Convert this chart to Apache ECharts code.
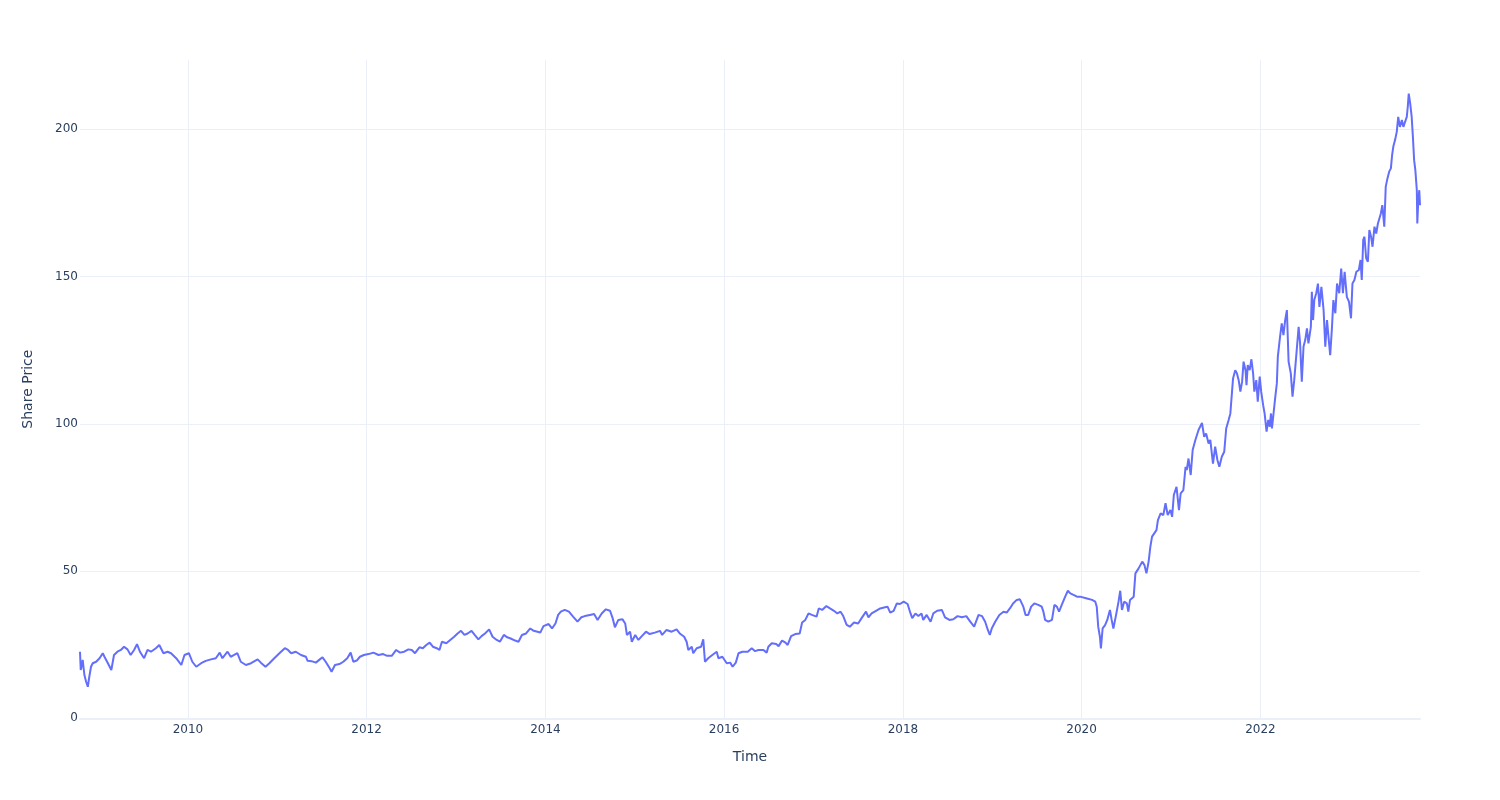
<!DOCTYPE html>
<html>
<head>
<meta charset="utf-8">
<script src="https://cdn.jsdelivr.net/npm/echarts@6/dist/echarts.min.js"></script>
<style>
  html, body { margin: 0; padding: 0; background: #fff; }
  #chart { width: 1500px; height: 800px; }
</style>
</head>
<body>
<div id="chart"></div>
<script>
const dates = [
  '2008-10-17','2008-10-20','2008-10-23','2008-10-28','2008-11-04','2008-11-11','2008-11-18','2008-11-24','2008-12-01','2008-12-08','2008-12-22',
  '2009-01-05','2009-01-18','2009-01-25','2009-02-08','2009-02-22','2009-03-05','2009-03-19','2009-04-02','2009-04-15','2009-04-29','2009-05-12','2009-05-26','2009-06-07','2009-06-19','2009-07-06','2009-07-20','2009-08-03','2009-08-23','2009-09-06','2009-09-23','2009-10-10','2009-10-24','2009-11-14','2009-12-05','2009-12-18',
  '2010-01-05','2010-01-19','2010-02-04','2010-02-24','2010-03-15','2010-04-05','2010-04-25','2010-05-11','2010-05-22','2010-06-12','2010-06-25','2010-07-09','2010-07-22','2010-08-05','2010-08-26','2010-09-16','2010-10-13','2010-10-26','2010-11-14','2010-11-30','2010-12-20',
  '2011-01-10','2011-02-01','2011-02-14','2011-02-27','2011-03-18','2011-04-08','2011-04-28','2011-05-05','2011-05-21','2011-06-08','2011-06-24','2011-07-05','2011-07-18','2011-08-04','2011-08-11','2011-08-25','2011-09-12','2011-09-28','2011-10-14','2011-10-28','2011-11-08','2011-11-22','2011-12-05','2011-12-21',
  '2012-01-09','2012-01-29','2012-02-19','2012-03-09','2012-03-25','2012-04-13','2012-05-01','2012-05-17','2012-06-03','2012-06-20','2012-07-04','2012-07-17','2012-08-04','2012-08-18','2012-09-01','2012-09-15','2012-09-28','2012-10-14','2012-10-25','2012-11-04','2012-11-22','2012-12-08','2012-12-24',
  '2013-01-07','2013-01-21','2013-02-04','2013-02-17','2013-03-05','2013-03-18','2013-04-02','2013-04-15','2013-04-29','2013-05-16','2013-05-30','2013-06-16','2013-06-29','2013-07-15','2013-07-29','2013-08-12','2013-08-30','2013-09-13','2013-09-27','2013-10-14','2013-10-31','2013-11-14','2013-11-21','2013-12-11','2013-12-24',
  '2014-01-14','2014-01-28','2014-02-11','2014-02-22','2014-03-05','2014-03-21','2014-04-07','2014-04-24','2014-05-12','2014-05-28','2014-06-11','2014-07-02','2014-07-19','2014-08-02','2014-08-19','2014-09-05','2014-09-22','2014-10-03','2014-10-12','2014-10-26','2014-11-12','2014-11-23','2014-11-30','2014-12-13','2014-12-20',
  '2015-01-03','2015-01-16','2015-01-30','2015-02-16','2015-03-03','2015-03-24','2015-04-14','2015-04-23','2015-05-11','2015-06-01','2015-06-21','2015-07-04','2015-07-22','2015-08-01','2015-08-08','2015-08-22','2015-08-28','2015-09-11','2015-09-29','2015-10-08','2015-10-15','2015-10-28','2015-11-14','2015-12-02','2015-12-09','2015-12-25',
  '2016-01-12','2016-01-26','2016-02-05','2016-02-18','2016-02-29','2016-03-16','2016-04-07','2016-04-23','2016-05-07','2016-05-20','2016-05-26','2016-06-10','2016-06-23','2016-06-30','2016-07-14','2016-08-01','2016-08-11','2016-08-25','2016-09-08','2016-09-17','2016-10-01','2016-10-18','2016-11-05','2016-11-15','2016-11-28','2016-12-11','2016-12-25',
  '2017-01-13','2017-01-22','2017-02-05','2017-02-22','2017-03-09','2017-03-25','2017-04-08','2017-04-21','2017-05-02','2017-05-16','2017-05-29','2017-06-15','2017-07-02','2017-07-16','2017-08-03','2017-08-13','2017-08-26','2017-09-13','2017-09-30','2017-10-20','2017-10-30','2017-11-10','2017-11-24','2017-12-07','2017-12-20',
  '2018-01-04','2018-01-20','2018-02-01','2018-02-08','2018-02-21','2018-03-05','2018-03-18','2018-03-25','2018-04-08','2018-04-24','2018-05-05','2018-05-21','2018-06-09','2018-06-22','2018-07-10','2018-07-26','2018-08-12','2018-08-30','2018-09-17','2018-10-03','2018-10-19','2018-10-27','2018-11-06','2018-11-20','2018-12-03','2018-12-14','2018-12-22','2018-12-30',
  '2019-01-13','2019-01-30','2019-02-16','2019-03-01','2019-03-14','2019-03-27','2019-04-11','2019-04-24','2019-05-08','2019-05-17','2019-05-28','2019-06-09','2019-06-22','2019-07-08','2019-07-22','2019-07-29','2019-08-05','2019-08-18','2019-09-02','2019-09-12','2019-09-22','2019-10-01','2019-10-12','2019-10-26','2019-11-06','2019-11-16','2019-11-29','2019-12-13','2019-12-26',
  '2020-01-23','2020-02-13','2020-02-26','2020-03-03','2020-03-09','2020-03-16','2020-03-20','2020-03-27','2020-04-06','2020-04-15','2020-04-26','2020-05-03','2020-05-10','2020-05-21','2020-05-31','2020-06-07','2020-06-14','2020-06-23','2020-07-04','2020-07-10','2020-07-17','2020-08-01','2020-08-08','2020-08-21','2020-09-05','2020-09-14','2020-09-22','2020-10-01','2020-10-08','2020-10-15','2020-10-24','2020-11-02','2020-11-08','2020-11-19','2020-11-30','2020-12-09','2020-12-18','2020-12-29',
  '2021-01-05','2021-01-12','2021-01-23','2021-02-02','2021-02-09','2021-02-20','2021-03-01','2021-03-06','2021-03-13','2021-03-22','2021-03-30','2021-04-10','2021-04-23','2021-05-07','2021-05-16','2021-05-24','2021-06-03','2021-06-10','2021-06-21','2021-06-30','2021-07-09','2021-07-17','2021-07-27','2021-08-06','2021-08-14','2021-08-24','2021-08-31','2021-09-11','2021-09-20','2021-09-27','2021-10-04','2021-10-11','2021-10-18','2021-10-24','2021-11-01','2021-11-05','2021-11-10','2021-11-18','2021-11-25','2021-12-02','2021-12-07','2021-12-15','2021-12-21','2021-12-29',
  '2022-01-04','2022-01-12','2022-01-18','2022-01-26','2022-02-02','2022-02-08','2022-02-13','2022-02-17','2022-02-23','2022-03-02','2022-03-09','2022-03-13','2022-03-22','2022-03-29','2022-04-05','2022-04-12','2022-04-19','2022-04-26','2022-05-05','2022-05-12','2022-05-19','2022-05-27','2022-06-06','2022-06-12','2022-06-19','2022-06-26','2022-07-03','2022-07-10','2022-07-16','2022-07-26','2022-07-30','2022-08-04','2022-08-09','2022-08-17','2022-08-24','2022-08-30','2022-09-07','2022-09-16','2022-09-23','2022-09-30','2022-10-06','2022-10-13','2022-10-20','2022-10-26','2022-11-03','2022-11-10','2022-11-19','2022-11-27','2022-12-04','2022-12-11','2022-12-20','2022-12-29',
  '2023-01-06','2023-01-12','2023-01-20','2023-01-28','2023-02-07','2023-02-14','2023-02-19','2023-02-25','2023-03-02','2023-03-09','2023-03-16','2023-03-22','2023-03-29','2023-04-04','2023-04-12','2023-04-19','2023-04-26','2023-05-02','2023-05-08','2023-05-14','2023-05-22','2023-05-28','2023-06-04','2023-06-11','2023-06-18','2023-06-23','2023-06-28','2023-07-05','2023-07-12','2023-07-18','2023-07-25','2023-08-02','2023-08-08','2023-08-15','2023-08-22','2023-08-26','2023-08-30','2023-09-05','2023-09-11','2023-09-16','2023-09-21','2023-09-26','2023-10-02','2023-10-04','2023-10-08','2023-10-12','2023-10-15'
];

const prices = [
  22.6,16.4,17.5,19.8,14.7,12.4,10.7,14.1,17.5,18.7,19.2,
  20.4,22.1,20.9,18.7,16.4,21.5,22.6,23.2,24.3,23.4,21.5,23.2,25.2,22.6,20.4,23.2,22.6,23.8,24.9,22.1,22.6,22.1,20.4,18.1,21.5,
  22.1,19.2,17.5,18.7,19.5,20.0,20.4,22.3,20.4,22.6,20.9,21.5,22.1,19.2,18.1,18.7,20.0,18.9,17.5,18.7,20.4,
  22.1,23.8,23.2,22.1,22.6,21.5,20.9,19.5,19.4,18.9,20.0,20.7,19.2,16.9,15.8,18.1,18.4,19.2,20.4,22.3,19.2,19.6,20.9,21.5,
  21.8,22.3,21.5,21.8,21.2,21.2,23.2,22.3,22.6,23.4,23.2,22.1,24.1,23.8,24.9,25.7,24.3,23.8,23.2,26.0,25.5,26.6,27.7,
  28.8,29.7,28.3,28.8,29.7,28.3,26.8,27.9,28.8,30.2,27.7,26.6,26.0,28.3,27.5,27.1,26.4,26.0,28.3,28.8,30.5,29.7,29.4,29.1,31.3,
  32.0,30.5,32.2,35.1,36.2,36.8,36.2,34.5,32.8,34.3,34.7,35.1,35.4,33.4,35.6,37.0,36.5,33.9,30.9,33.4,33.6,32.2,28.3,29.4,26.0,
  28.3,26.6,27.9,29.4,28.6,29.1,29.7,28.3,30.0,29.4,30.2,28.8,27.7,26.0,23.2,24.3,22.1,23.8,24.3,26.8,19.2,20.4,21.5,22.6,20.4,20.9,
  18.7,18.9,17.5,18.9,22.1,22.6,22.6,23.8,22.8,23.2,23.8,23.2,22.3,24.3,25.5,25.2,24.5,26.4,25.7,24.9,27.9,28.6,28.8,32.5,33.4,35.6,35.1,
  34.5,37.3,36.8,38.1,37.3,36.5,35.6,36.2,34.7,31.7,31.1,32.5,32.2,34.0,36.2,34.3,35.6,36.5,37.3,37.7,37.9,35.9,36.5,39.0,38.8,
  39.6,38.8,35.6,34.0,35.6,34.7,35.6,33.4,35.1,32.8,35.6,36.5,36.8,34.3,33.4,33.6,34.7,34.3,34.7,32.8,31.1,30.5,35.1,34.7,32.8,30.0,28.3,30.5,
  32.8,35.1,36.2,35.9,37.3,39.0,40.2,40.4,37.9,35.1,35.1,37.9,39.0,38.5,37.9,36.2,33.4,32.8,33.4,38.5,37.9,36.2,38.5,41.3,43.3,42.4,41.9,41.3,41.3,
  40.7,40.2,39.6,37.9,31.1,27.7,23.7,30.5,31.6,33.4,36.8,33.4,30.5,35.1,39.6,43.3,36.8,39.6,39.0,36.2,40.2,41.3,49.2,50.9,53.2,52.0,49.2,53.2,58.2,61.7,62.8,63.9,67.3,69.6,69.0,73.0,69.0,70.7,
  68.4,75.8,78.6,70.7,76.4,77.5,85.4,84.3,88.2,82.6,91.1,94.5,97.9,100.3,95.6,96.7,93.3,94.5,86.5,92.2,87.7,85.4,88.8,90.5,98.4,101.3,103.5,115.4,118.2,117.1,114.8,110.9,114.3,121.1,118.2,113.1,119.9,118.2,121.9,117.1,110.9,114.8,107.5,116.0,
  110.9,106.3,103.5,97.3,101.3,99.0,103.5,98.4,98.4,108.6,113.7,122.8,129.5,134.1,130.1,135.2,138.6,121.1,117.1,109.2,114.8,122.8,132.9,127.3,114.3,126.2,128.4,132.4,127.3,132.9,144.8,135.2,142.0,144.3,147.6,139.7,146.5,138.6,126.2,135.2,129.5,123.3,132.4,142.0,137.5,147.6,144.3,152.7,144.3,151.6,143.1,141.4,
  135.8,147.6,148.8,151.6,152.2,155.6,148.8,162.4,163.5,156.2,155.0,165.8,163.5,160.1,166.9,164.6,168.0,169.7,171.4,174.2,166.9,180.5,183.3,185.6,186.7,191.2,194.1,196.3,199.1,204.2,200.8,203.1,200.8,200.3,204.2,207.6,212.1,208.7,204.2,197.4,189.5,186.1,179.3,168.0,175.9,179.3,174.2
];

const xTickYears = [2010, 2012, 2014, 2016, 2018, 2020, 2022];
const yTicks = [0, 50, 100, 150, 200];
const yRangeMax = 223.5;

const FONT = 'DejaVu Sans, Verdana, sans-serif';
const TEXT = '#2a3f5f';
const GRID = '#ebf0f8';

function toTime(s) {
  const p = s.split('-').map(Number);
  return new Date(p[0], p[1] - 1, p[2]).getTime();
}
const times = dates.map(toTime);
const xTickVals = xTickYears.map(y => new Date(y, 0, 1).getTime());

const chart = echarts.init(document.getElementById('chart'), null, { renderer: 'canvas' });

chart.setOption({
  animation: false,
  backgroundColor: '#ffffff',
  grid: { left: 80, right: 80, top: 60, bottom: 81.7, containLabel: false },
  xAxis: {
    type: 'value',
    min: times[0],
    max: times[times.length - 1],
    scale: true,
    name: 'Time',
    nameLocation: 'middle',
    nameGap: 32,
    nameTextStyle: { color: TEXT, fontSize: 14, fontFamily: FONT },
    axisLine: { show: true, onZero: false, lineStyle: { color: GRID, width: 2 } },
    axisTick: { show: false, customValues: xTickVals },
    axisLabel: {
      customValues: xTickVals,
      formatter: v => String(new Date(v).getFullYear()),
      color: TEXT, fontSize: 12, fontFamily: FONT, margin: 6
    },
    splitLine: { show: true, lineStyle: { color: GRID, width: 1 } }
  },
  yAxis: {
    type: 'value',
    min: yTicks[0],
    max: yRangeMax,
    interval: 50,
    name: 'Share Price',
    nameLocation: 'middle',
    nameGap: 45,
    nameRotate: 90,
    nameTextStyle: { color: TEXT, fontSize: 14, fontFamily: FONT },
    axisLine: { show: false },
    axisTick: { show: false },
    axisLabel: {
      color: TEXT, fontSize: 12, fontFamily: FONT, margin: 2,
      padding: [4, 0, 0, 0],
      formatter: v => (yTicks.indexOf(v) >= 0 ? String(v) : '')
    },
    splitLine: { show: true, showMaxLine: false, lineStyle: { color: GRID, width: 1 } }
  },
  series: [{
    type: 'line',
    data: times.map((t, i) => [t, prices[i]]),
    showSymbol: false,
    symbol: 'none',
    lineStyle: { color: '#636efa', width: 2 },
    itemStyle: { color: '#636efa' },
    emphasis: { disabled: true }
  }]
});
</script>
</body>
</html>
